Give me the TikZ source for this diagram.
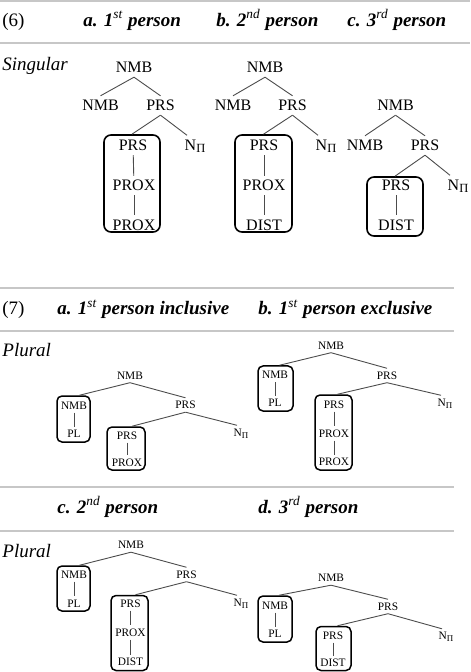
\documentclass[tikz,border=0pt]{standalone}
\usepackage{fontspec}
\setmainfont{Liberation Serif}
\usepackage{tikz}
\usetikzlibrary{arrows}

\newcommand\Npi{N\raisebox{-0.35ex}{\scalebox{0.78}{Π}}}
\newcommand\headtxt[3]{\textbf{\textit{#1\textsuperscript{\mdseries #2} #3}}}

\begin{document}
\begin{tikzpicture}
  [x=0.5pt,y=-0.5pt,every node/.style={inner sep=2pt,text depth=0pt},
   lbl/.style={font=\fontsize{8}{9}\selectfont,text height=5.3pt},
   sml/.style={font=\fontsize{5.7}{6.5}\selectfont,text height=3.8pt,inner sep=1.5pt},
   hd/.style={anchor=base west,inner sep=0pt,font=\fontsize{9.5}{11}\selectfont},
   it/.style={hd,font=\fontsize{9.5}{11}\selectfont\itshape},
   rule/.style={draw=black!22,line width=1pt}]

  \tikzstyle{box} = [draw,rounded corners=3.5pt,line width=0.8pt]
  \tikzstyle{sbox} = [draw,rounded corners=2.5pt,line width=0.75pt]

  \useasboundingbox (0,0) rectangle (470,672);

  % (6) singular
  \draw[rule] (0,1) -- (470,1);
  \draw[rule] (0,43) -- (470,43);
  \node[hd] (h6)  at (2,26.5)   {(6)};
  \node[hd] (h6a) at (83,26.5)  {\headtxt{a. 1}{st}{person}};
  \node[hd] (h6b) at (216,26.5) {\headtxt{b. 2}{nd}{person}};
  \node[hd] (h6c) at (347,26.5) {\headtxt{c. 3}{rd}{person}};
  \node[it] (sg)  at (2,71)     {Singular};

  \node[lbl] (a0) at (134,67.5)   {NMB};
  \node[lbl] (a1) at (100.5,105.5) {NMB};
  \node[lbl] (a2) at (160.5,105.5) {PRS};
  \node[box,minimum width=28pt,minimum height=48.5pt] (abox) at (132,183.5) {};
  \node[lbl] (ab1) at (133,145.5) {PRS};
  \node[lbl] (ab2) at (134,185.5) {PROX};
  \node[lbl] (ab3) at (134,225)   {PROX};
  \node[lbl] (an)  at (195,145)   {\Npi};

  \node[lbl] (b0) at (265,67.5)   {NMB};
  \node[lbl] (b1) at (233,105.5)  {NMB};
  \node[lbl] (b2) at (292.5,105.5) {PRS};
  \node[box,minimum width=28.5pt,minimum height=48.5pt] (bbox) at (263.5,183.5) {};
  \node[lbl] (bb1) at (264,145.5) {PRS};
  \node[lbl] (bb2) at (264,185.5) {PROX};
  \node[lbl] (bb3) at (264,225)   {DIST};
  \node[lbl] (bn)  at (326,145)   {\Npi};

  \node[lbl] (c0) at (395.5,105.5) {NMB};
  \node[lbl] (c1) at (365,145.5)   {NMB};
  \node[lbl] (c2) at (425,145.5)   {PRS};
  \node[box,minimum width=28pt,minimum height=29.5pt] (cbox) at (395,206.5) {};
  \node[lbl] (cb1) at (396,185.5) {PRS};
  \node[lbl] (cb2) at (396,225)   {DIST};
  \node[lbl] (cn)  at (458,185)   {\Npi};

  % (7) plural
  \draw[rule] (0,288) -- (454,288);
  \draw[rule] (0,331) -- (454,331);
  \node[hd] (h7)  at (2,315)   {(7)};
  \node[hd] (h7a) at (57,315)  {\headtxt{a. 1}{st}{person inclusive}};
  \node[hd] (h7b) at (258,315) {\headtxt{b. 1}{st}{person exclusive}};
  \node[it] (pl1) at (2,357)   {Plural};

  \node[sml] (p0) at (130,375.5) {NMB};
  \node[sbox,minimum width=16.5pt,minimum height=23pt] (pbox1) at (73.5,419) {};
  \node[sml] (p11) at (74,405.5) {NMB};
  \node[sml] (p12) at (74,434)   {PL};
  \node[sml] (p2) at (185.5,405) {PRS};
  \node[sbox,minimum width=19pt,minimum height=21.5pt] (pbox2) at (126,448.5) {};
  \node[sml] (p21) at (127,435.5) {PRS};
  \node[sml] (p22) at (127,462.5) {PROX};
  \node[sml] (pn)  at (241,432.5) {\Npi};

  \node[sml] (q0) at (331,345.5) {NMB};
  \node[sbox,minimum width=17.5pt,minimum height=22.5pt] (qbox1) at (275.5,388.5) {};
  \node[sml] (q11) at (275,375) {NMB};
  \node[sml] (q12) at (275,403) {PL};
  \node[sml] (q2) at (387,375.5) {PRS};
  \node[sbox,minimum width=18.5pt,minimum height=37.5pt] (qbox2) at (333.5,432.5) {};
  \node[sml] (q21) at (334,404.5) {PRS};
  \node[sml] (q22) at (334,433.5) {PROX};
  \node[sml] (q23) at (334,462)   {PROX};
  \node[sml] (qn)  at (445,402.5) {\Npi};

  \draw[rule] (0,487) -- (454,487);
  \draw[rule] (0,531) -- (454,531);
  \node[hd] (h7c) at (57,513)  {\headtxt{c. 2}{nd}{person}};
  \node[hd] (h7d) at (258,513) {\headtxt{d. 3}{rd}{person}};
  \node[it] (pl2) at (2,557)   {Plural};

  \node[sml] (r0) at (131,545) {NMB};
  \node[sbox,minimum width=16.5pt,minimum height=22.5pt] (rbox1) at (73.5,588.5) {};
  \node[sml] (r11) at (74,574.5) {NMB};
  \node[sml] (r12) at (74,603.5) {PL};
  \node[sml] (r2) at (186.5,574.5) {PRS};
  \node[sbox,minimum width=18.5pt,minimum height=37.5pt] (rbox2) at (129.5,633) {};
  \node[sml] (r21) at (130.5,603.5) {PRS};
  \node[sml] (r22) at (130.5,632.5) {PROX};
  \node[sml] (r23) at (130.5,662)   {DIST};
  \node[sml] (rn)  at (241,602.5) {\Npi};

  \node[sml] (s0) at (331,578) {NMB};
  \node[sbox,minimum width=17pt,minimum height=23pt] (sbox1) at (275,619) {};
  \node[sml] (s11) at (275,605.5) {NMB};
  \node[sml] (s12) at (275,634)   {PL};
  \node[sml] (s2) at (388,606.5) {PRS};
  \node[sbox,minimum width=17.5pt,minimum height=22pt] (sbox2) at (333.5,648.5) {};
  \node[sml] (s21) at (333,635.5) {PRS};
  \node[sml] (s22) at (333,663)   {DIST};
  \node[sml] (sn)  at (446,636)   {\Npi};

  \path[draw=black!70, line width=0.45pt]
        (a0.south) edge (a1.north)  (a0.south) edge (a2.north)
        (a2.south) edge (abox.north) (a2.south) edge ([xshift=-4pt]an.north)
        (ab1) edge (ab2)  (ab2) edge (ab3)
        (b0.south) edge (b1.north)  (b0.south) edge (b2.north)
        (b2.south) edge (bbox.north) (b2.south) edge ([xshift=-4pt]bn.north)
        (bb1) edge (bb2)  (bb2) edge (bb3)
        (c0.south) edge (c1.north)  (c0.south) edge (c2.north)
        (c2.south) edge (cbox.north) (c2.south) edge ([xshift=-4pt]cn.north)
        (cb1) edge (cb2)
        (p0.south) edge ([xshift=3pt]pbox1.north) (p0.south) edge (p2.north)
        (p2.south) edge ([xshift=3pt]pbox2.north) (p2.south) edge ([xshift=-2pt]pn.north)
        (p11) edge (p12)  (p21) edge (p22)
        (q0.south) edge ([xshift=2pt]qbox1.north) (q0.south) edge (q2.north)
        (q2.south) edge ([xshift=2pt]qbox2.north) (q2.south) edge ([xshift=-2pt]qn.north)
        (q11) edge (q12)  (q21) edge (q22)  (q22) edge (q23)
        (r0.south) edge ([xshift=3pt]rbox1.north) (r0.south) edge (r2.north)
        (r2.south) edge ([xshift=3pt]rbox2.north) (r2.south) edge ([xshift=-2pt]rn.north)
        (r11) edge (r12)  (r21) edge (r22)  (r22) edge (r23)
        (s0.south) edge ([xshift=2pt]sbox1.north) (s0.south) edge (s2.north)
        (s2.south) edge ([xshift=2pt]sbox2.north) (s2.south) edge ([xshift=-2pt]sn.north)
        (s11) edge (s12)  (s21) edge (s22);
\end{tikzpicture}
\end{document}
